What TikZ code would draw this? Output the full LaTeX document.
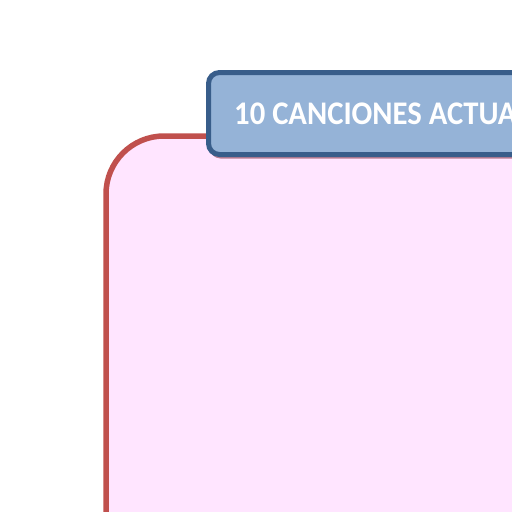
\documentclass[tikz,border=0pt]{standalone}
\usepackage{fontspec}
\usepackage{graphicx}
\setmainfont{Carlito}
\usetikzlibrary{positioning,shadows}

\begin{document}
\begin{tikzpicture}[x=1pt,y=1pt]
      \tikzset{
        marco/.style={draw={rgb,255:red,192;green,80;blue,77},line width=5.5pt,
          fill={rgb,255:red,255;green,229;blue,255},rounded corners=58pt},
        titulo/.style={draw={rgb,255:red,56;green,93;blue,138},line width=5pt,
          fill={rgb,255:red,149;green,179;blue,215},rounded corners=11pt,
          drop shadow={shadow xshift=1pt,shadow yshift=-4pt,
            fill={rgb,255:red,185;green,125;blue,145},opacity=1}},
      }
      \useasboundingbox (0,0) rectangle (512,-512);
      \clip (0,0) rectangle (512,-512);

      \coordinate (M1) at (106,-136);
      \coordinate (M2) at (700,-700);
      \coordinate (T1) at (206,-70);

      \draw[marco] (M1) rectangle (M2);
      \node[titulo,inner sep=0pt,minimum width=555pt,minimum height=82pt,
        anchor=north west] (caja) at (T1) {};
      \node[anchor=base west,text=white,font=\bfseries\fontsize{33}{38}\selectfont,inner sep=0pt]
        (tema) at (234,-124) {\scalebox{0.93}[1]{10 CANCIONES ACTUALES}};

\end{tikzpicture}
\end{document}
